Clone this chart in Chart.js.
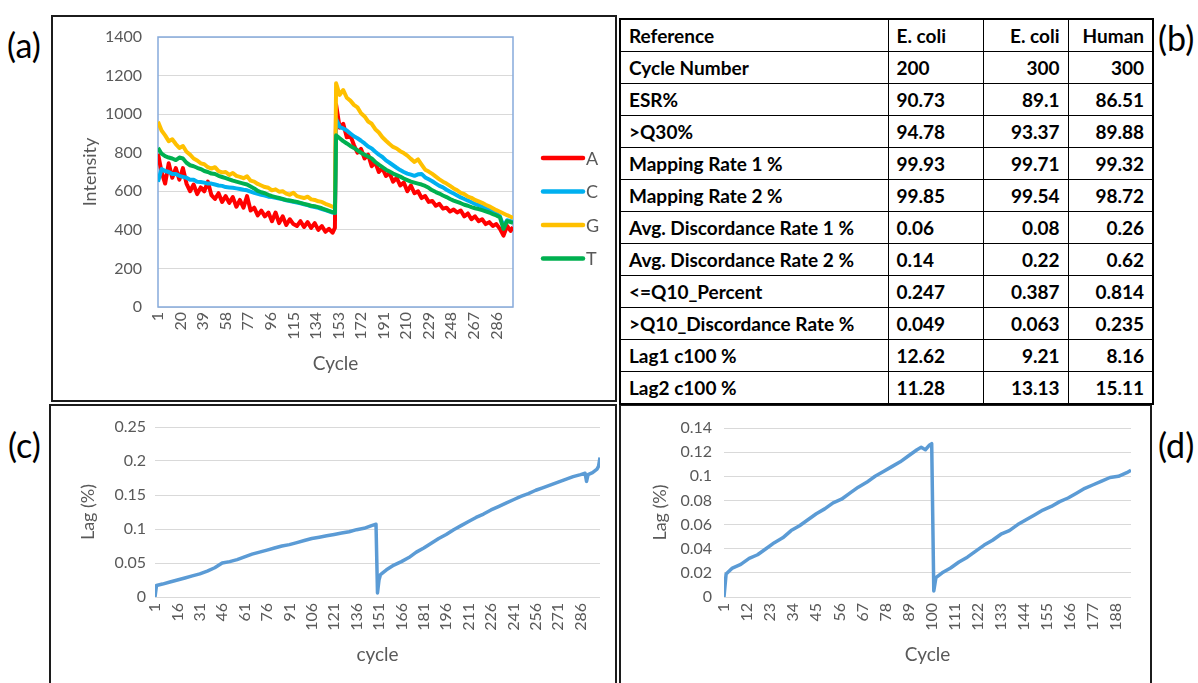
<!DOCTYPE html>
<html>
<head>
<meta charset="utf-8">
<title>Run quality: intensity, metrics and lag</title>
<script src="https://cdn.jsdelivr.net/npm/chart.js@4.4.0/dist/chart.umd.min.js"></script>
<style>
    body { margin: 0; background: #fff; font-family: Lato, "Open Sans", sans-serif; }
    #page { position: relative; width: 1198px; height: 683px; overflow: hidden; background: #fff; }
    .panel { position: absolute; box-sizing: border-box; border: 2px solid #1c1c1c; }
    .tag { position: absolute; font-size: 34px; line-height: 1; color: #000; }
    canvas { position: absolute; }
    #metrics {
        position: absolute; left: 619px; top: 18px; width: 533px;
        border-collapse: collapse; table-layout: fixed; border: 2px solid #000;
        font-weight: bold; font-size: 19px; color: #000;
    }
    #metrics td { border: 1px solid #000; height: 31px; padding: 0 8px; white-space: nowrap; overflow: hidden; }
    #metrics td.num { text-align: right; }
</style>
</head>
<body>
<div id="page">
    <div class="tag" style="left:7px;top:28px">(a)</div>
    <div class="tag" style="left:1158px;top:21px">(b)</div>
    <div class="tag" style="left:8px;top:428px">(c)</div>
    <div class="tag" style="left:1158px;top:428px">(d)</div>

    <div class="panel" style="left:51px;top:15px;width:566px;height:387px"></div>
    <div class="panel" style="left:49px;top:404px;width:568px;height:300px"></div>
    <div class="panel" style="left:619px;top:404px;width:533px;height:300px"></div>

    <canvas id="chartA" width="562" height="383" style="left:53px;top:17px"></canvas>
    <canvas id="chartC" width="566" height="277" style="left:51px;top:406px"></canvas>
    <canvas id="chartD" width="529" height="277" style="left:621px;top:406px"></canvas>

    <table id="metrics">
        <colgroup>
            <col style="width:268px"><col style="width:95px"><col style="width:85px"><col style="width:85px">
        </colgroup>
        <tbody></tbody>
    </table>
</div>

<script>
// (a) base intensity per cycle
const cyclesA = [1, 4, 7, 10, 13, 16, 19, 22, 25, 28, 31, 34, 37, 40, 43, 46, 49, 52, 55, 58,
    61, 64, 67, 70, 73, 76, 79, 82, 85, 88, 91, 94, 97, 100, 103, 106, 109, 112, 115, 118,
    121, 124, 127, 130, 133, 136, 139, 142, 145, 148, 150,
    151, 154, 157, 160, 163, 166, 169, 172, 175, 178, 181, 184, 187, 190, 193, 196, 199, 202, 205, 208,
    211, 214, 217, 220, 223, 226, 229, 232, 235, 238, 241, 244, 247, 250, 253, 256, 259, 262, 265, 268,
    271, 274, 277, 280, 283, 286, 289, 292, 295, 298, 300];

const intensityA = [795, 700, 640, 745, 670, 720, 660, 720, 640, 600, 635, 585, 620, 600, 650, 580, 560, 590, 545, 575,
    540, 570, 520, 555, 515, 575, 500, 515, 475, 500, 470, 490, 445, 490, 435, 470, 425, 455, 430, 420,
    445, 415, 440, 410, 435, 400, 420, 390, 405, 385, 410,
    1050, 930, 950, 880, 890, 840, 800, 820, 770, 790, 730, 750, 700, 720, 680, 695, 650, 670, 630, 645,
    600, 630, 590, 600, 565, 575, 545, 550, 525, 535, 510, 515, 495, 505, 490, 500, 470, 485, 455, 470,
    445, 455, 430, 440, 420, 430, 405, 370, 420, 395, 415];

const intensityC = [650, 715, 705, 700, 690, 690, 680, 675, 670, 660, 660, 650, 648, 645, 640, 640, 635, 630, 628, 622,
    620, 618, 615, 612, 608, 605, 598, 592, 587, 582, 578, 572, 570, 566, 563, 558, 553, 550, 546, 542,
    538, 533, 528, 522, 518, 514, 508, 502, 496, 490, 488,
    975, 935, 925, 915, 900, 885, 875, 862, 848, 832, 822, 805, 790, 778, 760, 748, 735, 722, 710, 700,
    692, 686, 680, 688, 690, 672, 662, 652, 640, 628, 620, 608, 598, 588, 578, 568, 560, 552, 543, 535,
    528, 520, 512, 502, 494, 485, 470, 418, 450, 445, 440];

const intensityG = [960, 915, 890, 860, 870, 845, 825, 835, 805, 790, 770, 760, 745, 740, 725, 718, 725, 705, 698, 700,
    685, 695, 680, 675, 668, 678, 655, 650, 638, 630, 622, 618, 605, 610, 598, 600, 588, 582, 592, 575,
    570, 565, 572, 558, 555, 548, 545, 535, 528, 520, 515,
    1160, 1100, 1125, 1085, 1070, 1048, 1035, 1005, 988, 962, 950, 922, 905, 880, 862, 845, 830, 822, 808, 798,
    785, 768, 752, 765, 738, 712, 702, 690, 676, 662, 650, 640, 628, 615, 605, 592, 585, 572, 566, 555,
    548, 540, 530, 522, 512, 502, 494, 485, 476, 468, 462];

const intensityT = [825, 795, 782, 775, 770, 762, 775, 770, 748, 735, 730, 722, 715, 705, 700, 692, 690, 680, 674, 668,
    662, 655, 650, 645, 640, 635, 625, 615, 602, 595, 590, 582, 575, 570, 565, 560, 555, 552, 548, 545,
    540, 535, 530, 525, 522, 518, 512, 505, 498, 492, 488,
    890, 875, 860, 848, 835, 825, 812, 800, 790, 780, 770, 752, 738, 725, 712, 702, 692, 684, 676, 666,
    658, 650, 645, 640, 635, 628, 618, 605, 596, 588, 578, 570, 560, 552, 545, 538, 530, 525, 518, 512,
    508, 502, 496, 490, 482, 475, 465, 405, 445, 440, 436];

const basesA = ["A", "C", "G", "T"];
const baseColors = ["#ff0000", "#00b0f0", "#ffc000", "#00b050"];
const xTicksA = [1, 20, 39, 58, 77, 96, 115, 134, 153, 172, 191, 210, 229, 248, 267, 286];
const yTicksA = [0, 200, 400, 600, 800, 1000, 1200, 1400];

// (b) metrics table
const tableHeader = ["Reference", "E. coli", "E. coli", "Human"];
const metricNames = ["Cycle Number", "ESR%", ">Q30%", "Mapping Rate 1 %", "Mapping Rate 2 %",
    "Avg. Discordance Rate 1 %", "Avg. Discordance Rate 2 %", "<=Q10_Percent",
    ">Q10_Discordance Rate %", "Lag1 c100 %", "Lag2 c100 %"];
const ecoli200 = ["200", "90.73", "94.78", "99.93", "99.85", "0.06", "0.14", "0.247", "0.049", "12.62", "11.28"];
const ecoli300 = ["300", "89.1", "93.37", "99.71", "99.54", "0.08", "0.22", "0.387", "0.063", "9.21", "13.13"];
const human300 = ["300", "86.51", "89.88", "99.32", "98.72", "0.26", "0.62", "0.814", "0.235", "8.16", "15.11"];

// (c) lag, 300 cycle run
const cyclesC = [1, 2, 6, 11, 16, 21, 26, 31, 36, 41, 46, 51, 56, 61, 66, 71, 76, 81, 86, 91, 96,
    101, 106, 111, 116, 121, 126, 131, 136, 141, 146, 149, 150, 151, 152, 156, 161, 166, 171, 176,
    181, 186, 191, 196, 201, 206, 211, 216, 221, 226, 231, 236, 241, 246, 251, 256, 261, 266, 271,
    276, 281, 286, 289, 290, 291, 294, 297, 298, 299];
const lagC = [0, 0.017, 0.019, 0.022, 0.025, 0.028, 0.031, 0.034, 0.038, 0.043, 0.05, 0.052, 0.055, 0.059,
    0.063, 0.066, 0.069, 0.072, 0.075, 0.077, 0.08, 0.083, 0.086, 0.088, 0.09, 0.092, 0.094, 0.096, 0.099,
    0.101, 0.105, 0.107, 0.006, 0.025, 0.033, 0.04, 0.047, 0.052, 0.058, 0.066, 0.072, 0.079, 0.086, 0.092,
    0.099, 0.105, 0.111, 0.117, 0.122, 0.128, 0.133, 0.138, 0.143, 0.148, 0.152, 0.157, 0.161, 0.165,
    0.169, 0.173, 0.177, 0.18, 0.182, 0.17, 0.18, 0.183, 0.188, 0.192, 0.205];
const xTicksC = [1, 16, 31, 46, 61, 76, 91, 106, 121, 136, 151, 166, 181, 196, 211, 226, 241, 256, 271, 286];
const yTicksC = [0, 0.05, 0.1, 0.15, 0.2, 0.25];

// (d) lag, 200 cycle run
const cyclesD = [1, 2, 5, 9, 13, 17, 21, 25, 29, 33, 37, 41, 45, 49, 53, 57, 61, 65, 69, 73, 77, 81, 85,
    89, 93, 95, 97, 99, 100, 101, 102, 105, 109, 113, 117, 121, 125, 129, 133, 137, 141, 145, 149,
    153, 157, 161, 165, 169, 173, 177, 181, 185, 189, 193, 195];
const lagD = [0, 0.019, 0.024, 0.027, 0.032, 0.035, 0.04, 0.045, 0.049, 0.055, 0.059, 0.064, 0.069, 0.073,
    0.078, 0.081, 0.086, 0.091, 0.095, 0.1, 0.104, 0.108, 0.112, 0.117, 0.122, 0.124, 0.122, 0.126, 0.127,
    0.005, 0.016, 0.02, 0.024, 0.029, 0.033, 0.038, 0.043, 0.047, 0.052, 0.055, 0.06, 0.064, 0.068,
    0.072, 0.075, 0.079, 0.082, 0.086, 0.09, 0.093, 0.096, 0.099, 0.1, 0.103, 0.105];
const xTicksD = [1, 12, 23, 34, 45, 56, 67, 78, 89, 100, 111, 122, 133, 144, 155, 166, 177, 188];
const yTicksD = [0, 0.02, 0.04, 0.06, 0.08, 0.1, 0.12, 0.14];

const textGrey = "#595959";
const gridGrey = "#d9d9d9";
const frameBlue = "#86aadb";
const lagBlue = "#5b9bd5";

Chart.defaults.font.family = "Lato";
Chart.defaults.color = textGrey;

function toPoints(xs, ys) {
    return xs.map((x, i) => ({ x: x, y: ys[i] }));
}

// replace the generated ticks with the ones printed on the figure
function fixedTicks(values) {
    return (axis) => {
        axis.ticks = values.map((v) => ({ value: v }));
    };
}

// fixed axis width, and no extra room asked for the end labels
function fixedWidth(width) {
    return (axis) => {
        axis.width = width;
        axis.paddingTop = 0;
        axis.paddingBottom = 0;
    };
}

// thin blue rectangle round the plot area, as in panel (a)
const plotFrame = {
    id: "plotFrame",
    beforeDatasetsDraw(chart) {
        const { ctx, chartArea } = chart;
        ctx.save();
        ctx.strokeStyle = frameBlue;
        ctx.lineWidth = 1.5;
        ctx.strokeRect(chartArea.left, chartArea.top, chartArea.width, chartArea.height);
        ctx.restore();
    },
};

// legend drawn as short line swatches with the label right after them
const seriesKey = {
    id: "seriesKey",
    afterDraw(chart) {
        const { ctx, chartArea } = chart;
        ctx.save();
        ctx.font = "18px Lato";
        ctx.textBaseline = "middle";
        chart.data.datasets.forEach((ds, i) => {
            const x = chartArea.right + 30;
            const y = chartArea.top + 121 + i * 33.5;
            ctx.strokeStyle = ds.borderColor;
            ctx.lineWidth = 4.5;
            ctx.lineCap = "round";
            ctx.beginPath();
            ctx.moveTo(x, y);
            ctx.lineTo(x + 40, y);
            ctx.stroke();
            ctx.fillStyle = textGrey;
            ctx.fillText(ds.label, x + 43, y + 1);
        });
        ctx.restore();
    },
};

const seriesA = [intensityA, intensityC, intensityG, intensityT];

new Chart(document.getElementById("chartA"), {
    type: "line",
    data: {
        datasets: basesA.map((base, i) => ({
            label: base,
            data: toPoints(cyclesA, seriesA[i]),
            borderColor: baseColors[i],
            borderWidth: 4,
            pointRadius: 0,
            tension: 0,
            borderJoinStyle: "round",
            order: basesA.length - i,
        })),
    },
    options: {
        responsive: false,
        animation: false,
        layout: { padding: { left: 22, right: 102, top: 20, bottom: 21 } },
        plugins: { legend: { display: false }, tooltip: { enabled: false } },
        scales: {
            x: {
                type: "linear",
                min: 1,
                max: 300,
                afterBuildTicks: fixedTicks(xTicksA),
                afterFit: (axis) => { axis.height = 72; },
                grid: { display: false, drawTicks: false },
                border: { display: false },
                ticks: {
                    autoSkip: false, minRotation: 90, maxRotation: 90, padding: 5,
                    font: { size: 16 }, callback: (v) => String(v),
                },
                title: { display: true, text: "Cycle", font: { size: 19 } },
            },
            y: {
                min: 0,
                max: 1400,
                afterBuildTicks: fixedTicks(yTicksA),
                afterFit: fixedWidth(83),
                grid: { color: gridGrey, drawTicks: false },
                border: { display: false },
                ticks: { padding: 16, font: { size: 16 }, callback: (v) => String(v) },
                title: { display: true, text: "Intensity", font: { size: 18 } },
            },
        },
    },
    plugins: [plotFrame, seriesKey],
});

function lagChart(id, cycles, lag, xTicks, yTicks, box) {
    return new Chart(document.getElementById(id), {
        type: "line",
        data: {
            datasets: [{
                label: "Lag",
                data: toPoints(cycles, lag),
                borderColor: lagBlue,
                borderWidth: 3.5,
                pointRadius: 0,
                tension: 0,
                borderJoinStyle: "round",
            }],
        },
        options: {
            responsive: false,
            animation: false,
            layout: { padding: box.padding },
            plugins: { legend: { display: false }, tooltip: { enabled: false } },
            scales: {
                x: {
                    type: "linear",
                    min: 1,
                    max: box.xMax,
                    afterBuildTicks: fixedTicks(xTicks),
                    afterFit: (axis) => { axis.height = 73; },
                    grid: { display: false, drawTicks: false },
                    border: { display: false },
                    ticks: {
                        autoSkip: false, minRotation: 90, maxRotation: 90, padding: 6,
                        font: { size: 16 }, callback: (v) => String(v),
                    },
                    title: { display: true, text: box.xTitle, font: { size: 19 } },
                },
                y: {
                    min: 0,
                    max: yTicks[yTicks.length - 1],
                    afterBuildTicks: fixedTicks(yTicks),
                    afterFit: fixedWidth(box.yWidth),
                    grid: { color: gridGrey, drawTicks: false },
                    border: { display: false },
                    ticks: { padding: box.tickPad, font: { size: 16 }, callback: (v) => String(v) },
                    title: { display: true, text: "Lag (%)", font: { size: 18 } },
                },
            },
        },
    });
}

lagChart("chartC", cyclesC, lagC, xTicksC, yTicksC, {
    xMax: 299, xTitle: "cycle", yWidth: 82, tickPad: 9,
    padding: { left: 22, right: 17, top: 21, bottom: 13 },
});

lagChart("chartD", cyclesD, lagD, xTicksD, yTicksD, {
    xMax: 195, xTitle: "Cycle", yWidth: 79, tickPad: 12,
    padding: { left: 24, right: 19, top: 22, bottom: 13 },
});

// fill the metrics table
const tbody = document.querySelector("#metrics tbody");

function addRow(cells) {
    const tr = document.createElement("tr");
    cells.forEach((text, i) => {
        const td = document.createElement("td");
        td.textContent = text;
        if (i >= 2) td.className = "num";
        tr.appendChild(td);
    });
    tbody.appendChild(tr);
}

addRow(tableHeader);
metricNames.forEach((name, i) => {
    addRow([name, ecoli200[i], ecoli300[i], human300[i]]);
});
</script>
</body>
</html>
